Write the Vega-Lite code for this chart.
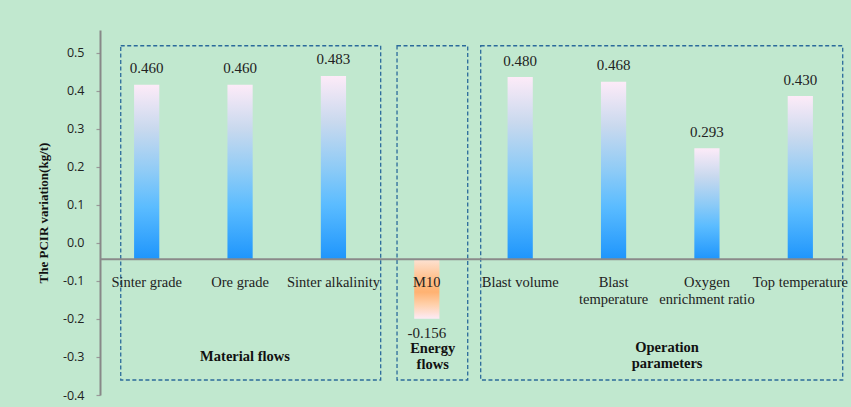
{
  "$schema": "https://vega.github.io/schema/vega-lite/v6.json",
  "width": 747,
  "height": 365,
  "autosize": {"type": "none"},
  "padding": {"left": 100, "top": 30, "right": 4, "bottom": 12},
  "background": "#c1e8cf",
  "config": {"view": {"stroke": null}},
  "datasets": {
    "bars": [
      {"factor": "Sinter grade", "value": 0.460},
      {"factor": "Ore grade", "value": 0.460},
      {"factor": "Sinter alkalinity", "value": 0.483},
      {"factor": "M10", "value": -0.156},
      {"factor": "Blast volume", "value": 0.480},
      {"factor": "Blast temperature", "value": 0.468},
      {"factor": "Oxygen enrichment ratio", "value": 0.293},
      {"factor": "Top temperature", "value": 0.430}
    ],
    "groups": [
      {"label": "Material flows", "x0": 0.222, "x1": 3.006, "y0": -0.3605, "y1": 0.519, "lx": 1.553, "ly": -0.301},
      {"label": "Energy\nflows", "x0": 3.181, "x1": 3.938, "y0": -0.3605, "y1": 0.519, "lx": 3.563, "ly": -0.28},
      {"label": "Operation\nparameters", "x0": 4.077, "x1": 7.954, "y0": -0.3605, "y1": 0.519, "lx": 6.073, "ly": -0.277}
    ]
  },
  "layer": [
    {
      "data": {"name": "groups"},
      "layer": [
        {
          "mark": {"type": "rect", "fill": "transparent", "stroke": "#2b6a9b", "strokeWidth": 1.3, "strokeDash": [4, 2.5]},
          "encoding": {
            "x": {"field": "x0", "type": "quantitative", "scale": {"domain": [0, 8], "nice": false, "zero": false}, "axis": null},
            "x2": {"field": "x1"},
            "y": {
              "field": "y0", "type": "quantitative",
              "scale": {"domain": [-0.4, 0.5605], "nice": false, "zero": false},
              "axis": {
                "orient": "left",
                "values": [-0.4, -0.3, -0.2, -0.1, 0, 0.1, 0.2, 0.3, 0.4, 0.5],
                "format": ".1f",
                "labelExpr": "replace(datum.label, '\u2212', '-')",
                "grid": false,
                "title": "The PCIR variation(kg/t)",
                "titleFont": "Liberation Serif",
                "titleFontWeight": "bold",
                "titleFontSize": 13,
                "titleColor": "#111111",
                "titlePadding": 12,
                "labelFont": "Open Sans",
                "labelFontSize": 12.5,
                "labelColor": "#222222",
                "labelPadding": 12,
                "labelFlush": false,
                "tickSize": 4,
                "tickColor": "#999999",
                "tickWidth": 1.2,
                "domainColor": "#888888",
                "domainWidth": 2
              }
            },
            "y2": {"field": "y1"}
          }
        },
        {
          "mark": {"type": "text", "font": "Liberation Serif", "fontWeight": "bold", "fontSize": 14.5, "lineBreak": "\n", "lineHeight": 15.5, "baseline": "middle", "align": "center", "color": "#111111"},
          "encoding": {
            "x": {"field": "lx", "type": "quantitative", "scale": {"domain": [0, 8], "nice": false, "zero": false}, "axis": null},
            "y": {"field": "ly", "type": "quantitative", "scale": {"domain": [-0.4, 0.5605], "nice": false, "zero": false}},
            "text": {"field": "label", "type": "nominal"}
          }
        }
      ]
    },
    {
      "data": {"name": "bars"},
      "encoding": {
        "x": {
          "field": "factor", "type": "nominal", "sort": null,
          "scale": {
            "domain": ["Sinter grade", "Ore grade", "Sinter alkalinity", "M10", "Blast volume", "Blast temperature", "Oxygen enrichment ratio", "Top temperature"],
            "paddingInner": 0.73, "paddingOuter": 0.365
          },
          "axis": {
            "orient": "bottom",
            "offset": -136.3,
            "title": null,
            "ticks": false,
            "tickSize": 0,
            "domainColor": "#8a8a8a",
            "domainWidth": 2,
            "labelFont": "Liberation Serif",
            "labelFontSize": 14.5,
            "labelColor": "#222222",
            "labelAngle": 0,
            "labelPadding": 17,
            "labelLineHeight": 17,
            "labelBaseline": "top",
            "labelOverlap": false,
            "labelBound": false,
            "labelFlush": false,
            "labelLimit": 300,
            "zindex": 1,
            "labelExpr": "datum.label == 'Blast temperature' ? ['Blast', 'temperature'] : datum.label == 'Oxygen enrichment ratio' ? ['Oxygen', 'enrichment ratio'] : datum.label"
          }
        },
        "y": {
          "field": "value", "type": "quantitative",
          "scale": {"domain": [-0.3565, 0.604], "nice": false, "zero": false},
          "axis": null
        }
      },
      "layer": [
        {
          "transform": [{"filter": "datum.value >= 0"}],
          "mark": {
            "type": "bar",
            "color": {
              "gradient": "linear", "x1": 0, "y1": 1, "x2": 0, "y2": 0,
              "stops": [
                {"offset": 0, "color": "#1e95fc"},
                {"offset": 0.3, "color": "#5bbcff"},
                {"offset": 0.5, "color": "#8ecbf6"},
                {"offset": 0.75, "color": "#c9d9ee"},
                {"offset": 1, "color": "#fdebf8"}
              ]
            }
          },
          "encoding": {"y2": {"datum": 0}}
        },
        {
          "transform": [{"filter": "datum.value < 0"}],
          "mark": {
            "type": "bar",
            "color": {
              "gradient": "linear", "x1": 0, "y1": 0, "x2": 0, "y2": 1,
              "stops": [
                {"offset": 0, "color": "#fde2d2"},
                {"offset": 0.35, "color": "#ffbd86"},
                {"offset": 0.55, "color": "#ffb272"},
                {"offset": 0.75, "color": "#ffcfa8"},
                {"offset": 1, "color": "#fdebf6"}
              ]
            }
          },
          "encoding": {"y2": {"datum": 0}}
        },
        {
          "transform": [{"filter": "datum.value >= 0"}],
          "mark": {"type": "text", "font": "Liberation Serif", "fontSize": 15, "color": "#222222", "baseline": "alphabetic", "dy": -11.5},
          "encoding": {"text": {"field": "value", "type": "quantitative", "format": ".3f"}}
        },
        {
          "transform": [{"filter": "datum.value < 0"}],
          "mark": {"type": "text", "font": "Liberation Serif", "fontSize": 15, "color": "#222222", "baseline": "alphabetic", "dy": 19,
                   "text": {"expr": "replace(format(datum.value, '.3f'), '\u2212', '-')"}},
          "encoding": {}
        }
      ]
    }
  ],
  "resolve": {"scale": {"x": "independent", "y": "independent"}}
}
